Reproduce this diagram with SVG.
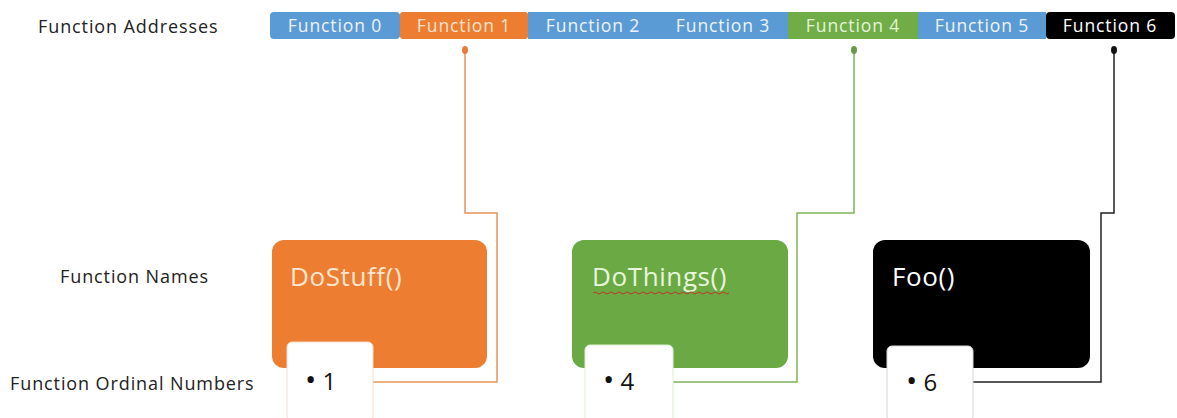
<svg xmlns="http://www.w3.org/2000/svg" width="1177" height="418" viewBox="0 0 1177 418">
<style>
.lbl{font-family:"Open Sans","Liberation Sans",sans-serif;font-size:18px;letter-spacing:0.9px;fill:#222}
.fa{font-family:"Open Sans","Liberation Sans",sans-serif;font-size:17.5px;letter-spacing:0.9px;fill:#eef3fa;text-anchor:middle}
.nm{font-family:"Open Sans","Liberation Sans",sans-serif;font-size:26px;letter-spacing:0.6px;fill:#fff}
.ord{font-family:"Open Sans","Liberation Sans",sans-serif;font-size:24px;fill:#111}
.bul{font-size:30px}
.conn{fill:none;stroke-width:1.5}
</style>
<defs>
<marker id="dotO" markerWidth="8" markerHeight="8" refX="4" refY="4" markerUnits="userSpaceOnUse"><ellipse cx="4" cy="4" rx="3" ry="4" fill="#e87a3a"/></marker>
<marker id="dotG" markerWidth="8" markerHeight="8" refX="4" refY="4" markerUnits="userSpaceOnUse"><ellipse cx="4" cy="4" rx="3" ry="4" fill="#6a9a48"/></marker>
<marker id="dotK" markerWidth="8" markerHeight="8" refX="4" refY="4" markerUnits="userSpaceOnUse"><ellipse cx="4" cy="4" rx="3" ry="4" fill="#111"/></marker>
</defs>
<rect width="1177" height="418" fill="#fff"/>
<g id="labels">
<text class="lbl" x="38" y="33">Function Addresses</text>
<text class="lbl" x="60" y="283">Function Names</text>
<text class="lbl" x="10" y="390">Function Ordinal Numbers</text>
</g>
<g id="addresses">
<rect x="270" y="12" width="130" height="27" rx="4" fill="#5b9bd5"/>
<rect x="400" y="12" width="128" height="27" rx="3" fill="#ed7d31"/>
<rect x="528" y="12" width="130" height="27" fill="#5b9bd5"/>
<rect x="658" y="12" width="130" height="27" fill="#5b9bd5"/>
<rect x="788" y="12" width="130" height="27" fill="#70ad47"/>
<rect x="918" y="12" width="128" height="27" fill="#5b9bd5"/>
<rect x="1046" y="12" width="129" height="27" rx="4" fill="#000"/>
<text class="fa" x="335" y="32">Function 0</text>
<text class="fa" x="464" y="32" style="fill:#fde3cf">Function 1</text>
<text class="fa" x="593" y="32">Function 2</text>
<text class="fa" x="723" y="32">Function 3</text>
<text class="fa" x="853" y="32" style="fill:#e4f4d8">Function 4</text>
<text class="fa" x="982" y="32">Function 5</text>
<text class="fa" x="1110" y="32" style="fill:#fff">Function 6</text>
</g>
<g id="connectors">
<path class="conn" stroke="#e8925a" d="M373 382 H497 V213 H465 V50" marker-end="url(#dotO)"/>
<path class="conn" stroke="#7fb35a" d="M673 382 H797 V213 H854 V50" marker-end="url(#dotG)"/>
<path class="conn" stroke="#222" d="M973 382 H1101 V213 H1114 V50" marker-end="url(#dotK)"/>
</g>
<g id="node-dostuff">
<rect x="272" y="240" width="215" height="128" rx="12" fill="#ed7d31"/>
<text class="nm" x="290" y="286" style="fill:#fde6d2">DoStuff()</text>
</g>
<g id="ord-1">
<rect x="287" y="342" width="86" height="80" rx="5" fill="#fff" stroke="#f6dccb" stroke-width="1"/>
<text class="ord" x="305" y="390"><tspan class="bul">•</tspan> 1</text>
</g>
<g id="node-dothings">
<rect x="572" y="240" width="216" height="128" rx="12" fill="#6aa944"/>
<text class="nm" x="592" y="286" style="fill:#e8f6dc">DoThings()</text>
<path d="M593 293 q2 -2 4 0 t4 0 t4 0 t4 0 t4 0 t4 0 t4 0 t4 0 t4 0 t4 0 t4 0 t4 0 t4 0 t4 0 t4 0 t4 0 t4 0 t4 0 t4 0 t4 0 t4 0 t4 0 t4 0 t4 0 t4 0 t4 0 t4 0 t4 0 t4 0 t4 0 t4 0 t4 0 t4 0 t4 0" fill="none" stroke="#c0392b" stroke-width="1"/>
</g>
<g id="ord-4">
<rect x="585" y="345" width="88" height="78" rx="5" fill="#fff" stroke="#dfeed6" stroke-width="1"/>
<text class="ord" x="603" y="390"><tspan class="bul">•</tspan> 4</text>
</g>
<g id="node-foo">
<rect x="873" y="240" width="217" height="128" rx="12" fill="#000"/>
<text class="nm" x="892" y="286">Foo()</text>
</g>
<g id="ord-6">
<rect x="887" y="346" width="86" height="76" rx="5" fill="#fff" stroke="#d6d6d6" stroke-width="1"/>
<text class="ord" x="906" y="391"><tspan class="bul">•</tspan> 6</text>
</g>
</svg>
